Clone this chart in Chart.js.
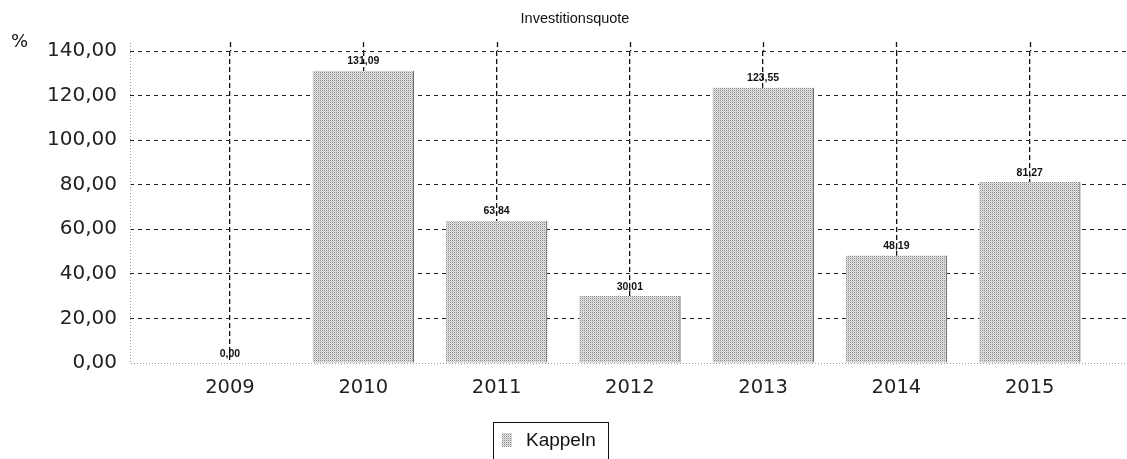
<!DOCTYPE html>
<html>
<head>
<meta charset="utf-8">
<script src="https://cdn.jsdelivr.net/npm/chart.js@4"></script>
<style>
html,body{margin:0;padding:0;background:#fff;}
#wrap{width:1127px;height:459px;position:relative;}
</style>
</head>
<body>
<div id="wrap"><canvas id="c" width="1127" height="459"></canvas></div>
<script>
const years = [2009, 2010, 2011, 2012, 2013, 2014, 2015];
const values = [0.00, 131.09, 63.84, 30.01, 123.55, 48.19, 81.27];
const yTicks = [0, 20, 40, 60, 80, 100, 120, 140];
const seriesName = 'Kappeln';
const titleText = 'Investitionsquote';
const unitText = '%';

function fmt(v){ return v.toFixed(2).replace('.', ','); }

function makePattern(){
  const p = document.createElement('canvas');
  p.width = 2; p.height = 2;
  const g = p.getContext('2d');
  g.fillStyle = '#e4e4e4'; g.fillRect(0,0,2,2);
  g.fillStyle = '#8c8c8c'; g.fillRect(0,0,1,1);
  g.fillStyle = '#c8c8c8'; g.fillRect(1,1,1,1);
  return g.createPattern(p, 'repeat');
}
const ctx0 = document.getElementById('c').getContext('2d');
const pattern = makePattern();

const extras = {
  id: 'extras',
  beforeDatasetsDraw(chart){
    const ctx = chart.ctx;
    const a = chart.chartArea;
    ctx.save();
    ctx.strokeStyle = '#9a9a9a';
    ctx.lineWidth = 1;
    ctx.setLineDash([1, 2]);
    ctx.beginPath();
    ctx.moveTo(a.left + 0.5, a.top - 8);
    ctx.lineTo(a.left + 0.5, a.bottom + 0.5);
    ctx.lineTo(a.right, a.bottom + 0.5);
    ctx.stroke();
    // short extension of the vertical grid above the plot
    ctx.strokeStyle = '#111';
    ctx.lineWidth = 1.3;
    ctx.setLineDash([5, 3]);
    const xs = chart.scales.x;
    years.forEach(v => {
      const px = Math.round(xs.getPixelForValue(v)) + 0.5;
      ctx.beginPath();
      ctx.moveTo(px, a.top - 9);
      ctx.lineTo(px, a.top);
      ctx.stroke();
    });
    ctx.restore();
  },
  afterDatasetsDraw(chart){
    const ctx = chart.ctx;
    const meta = chart.getDatasetMeta(0);
    ctx.save();
    ctx.fillStyle = '#111';
    ctx.font = 'bold 10.5px "Liberation Sans", Arial, sans-serif';
    ctx.textAlign = 'center';
    ctx.textBaseline = 'bottom';
    meta.data.forEach((bar, i) => {
      ctx.fillText(fmt(values[i]), bar.x, bar.y - 4);
    });
    ctx.restore();
  },
  afterDraw(chart){
    const ctx = chart.ctx;
    ctx.save();
    ctx.fillStyle = '#111';
    ctx.font = '14.5px "Liberation Sans", Arial, sans-serif';
    ctx.textAlign = 'center';
    ctx.textBaseline = 'middle';
    ctx.fillText(titleText, 575, 19);
    ctx.font = '18px "DejaVu Sans", sans-serif';
    ctx.textAlign = 'left';
    ctx.fillText(unitText, 11, 42);
    ctx.strokeStyle = '#111';
    ctx.lineWidth = 1;
    ctx.strokeRect(493.5, 422.5, 115, 45);
    ctx.fillStyle = pattern;
    ctx.fillRect(502, 433, 10, 14);
    ctx.fillStyle = '#111';
    ctx.font = '19px "Liberation Sans", Arial, sans-serif';
    ctx.textBaseline = 'middle';
    ctx.fillText(seriesName, 526, 441);
    ctx.restore();
  }
};

new Chart(ctx0, {
  type: 'bar',
  data: {
    datasets: [{
      label: seriesName,
      data: years.map((y, i) => ({x: y, y: values[i]})),
      backgroundColor: pattern,
      borderColor: '#666',
      borderWidth: {right: 1, left: 0, top: 0, bottom: 0},
      barThickness: 101
    }]
  },
  options: {
    responsive: false,
    animation: false,
    layout: {padding: {top: 51, right: 0, left: 0, bottom: 0}},
    plugins: {legend: {display: false}, title: {display: false}, tooltip: {enabled: false}},
    scales: {
      x: {
        type: 'linear',
        offset: false,
        min: 2008.25,
        max: 2015.73,
        afterFit(s){ s.height = 96; },
        afterBuildTicks(s){ s.ticks = years.map(v => ({value: v})); },
        ticks: {
          autoSkip: false,
          maxRotation: 0,
          padding: 13,
          color: '#222',
          font: {family: '"DejaVu Sans", sans-serif', size: 19.5},
          callback: v => String(v)
        },
        grid: {
          offset: false,
          color: '#111',
          lineWidth: 1.3,
          drawTicks: false
        },
        border: {display: false, dash: [5, 3]}
      },
      y: {
        min: 0,
        max: 140,
        afterFit(s){ s.width = 130; },
        afterBuildTicks(s){ s.ticks = yTicks.map(v => ({value: v})); },
        ticks: {
          padding: 13,
          color: '#222',
          font: {family: '"DejaVu Sans", sans-serif', size: 20},
          callback: v => fmt(v)
        },
        grid: {
          color: ctx => ctx.tick && ctx.tick.value === 0 ? 'rgba(0,0,0,0)' : '#222',
          lineWidth: 1,
          drawTicks: false
        },
        border: {display: false, dash: [4, 4]}
      }
    }
  },
  plugins: [extras]
});
</script>
</body>
</html>
